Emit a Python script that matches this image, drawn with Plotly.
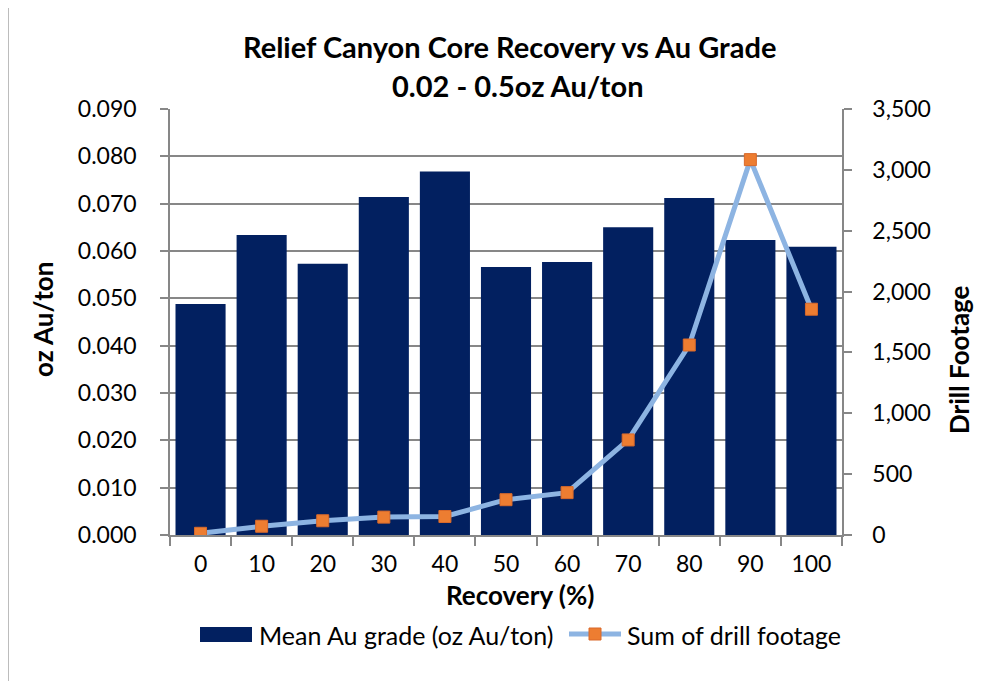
import plotly.graph_objects as go

recovery = ["0", "10", "20", "30", "40", "50", "60", "70", "80", "90", "100"]
mean_grade = [0.0488, 0.0634, 0.0573, 0.0714, 0.0768, 0.0566, 0.0577, 0.0650, 0.0712, 0.0623, 0.0609]
drill_footage = [14, 72, 117, 147, 152, 290, 348, 781, 1561, 3084, 1855]

FONT = "Lato"
GRID = "#878787"
BAR = "#022060"
LINE = "#8DB4E2"
MARK = "#ED7D31"

OFF = 8  # page body margin
W, H = 995 - OFF, 681 - OFF
L, R, T, B = 170 - OFF, 842 - OFF, 109 - OFF, 535 - OFF


def px_x(p):
    return (p - OFF - L) / (R - L)


def px_y(p):
    return (B - (p - OFF)) / (B - T)


fig = go.Figure()
fig.add_trace(go.Bar(
    x=recovery, y=mean_grade, name="Mean Au grade (oz Au/ton)",
    marker=dict(color=BAR, line=dict(width=0)),
    yaxis="y",
))
fig.add_trace(go.Scatter(
    x=recovery, y=drill_footage, name="Sum of drill footage",
    mode="lines+markers",
    line=dict(color=LINE, width=5),
    marker=dict(symbol="square", size=12, color=MARK,
                line=dict(color="#D9692A", width=1)),
    yaxis="y2",
))

fig.update_layout(
    width=W, height=H,
    margin=dict(l=L, r=W - R, t=T, b=H - B, pad=0),
    paper_bgcolor="white", plot_bgcolor="white",
    font=dict(family=FONT, size=23, color="#000000"),
    bargap=0.18,
    showlegend=False,
    xaxis=dict(
        type="category", range=[-0.5, 10.5],
        showline=True, linecolor=GRID, linewidth=1.5,
        ticks="outside", ticklen=9, tickcolor=GRID, tickwidth=1.5,
        tickson="boundaries", showgrid=False,
        tickfont=dict(family=FONT, size=23),
        ticklabelstandoff=8,
    ),
    yaxis=dict(
        range=[0, 0.09], dtick=0.01, tickformat=".3f",
        showline=True, linecolor=GRID, linewidth=1.5,
        ticks="outside", ticklen=8, tickcolor=GRID, tickwidth=1.5,
        showgrid=True, gridcolor=GRID, gridwidth=1.5,
        zeroline=False,
        tickfont=dict(family=FONT, size=23),
        ticklabelstandoff=19,
    ),
    yaxis2=dict(
        range=[0, 3500], dtick=500, tickformat=",",
        overlaying="y", side="right",
        showline=True, linecolor=GRID, linewidth=1.5,
        ticks="outside", ticklen=8, tickcolor=GRID, tickwidth=1.5,
        showgrid=False, zeroline=False,
        tickfont=dict(family=FONT, size=23),
        ticklabelstandoff=16,
    ),
)

annos = [
    dict(text="<b>Relief Canyon Core Recovery vs Au Grade</b>", x=509, y=47, size=29),
    dict(text="<b>0.02 - 0.5oz Au/ton</b>", x=518, y=85, size=29),
    dict(text="<b>Recovery (%)</b>", x=520, y=595, size=26),
    dict(text="<b>oz Au/ton</b>", x=43, y=320, size=26, angle=-90),
    dict(text="<b>Drill Footage</b>", x=959, y=360, size=26, angle=-90),
]
for a in annos:
    fig.add_annotation(text=a["text"], x=px_x(a["x"]), y=px_y(a["y"]), xref="paper", yref="paper",
                       xanchor="center", yanchor="middle", showarrow=False,
                       textangle=a.get("angle", 0),
                       font=dict(family=FONT, size=a["size"], color="#000000"))

# custom legend
LEG_Y = 634.5
fig.add_shape(type="rect", xref="paper", yref="paper",
              x0=px_x(200), x1=px_x(252), y0=px_y(642), y1=px_y(627),
              line=dict(width=0), fillcolor=BAR)
fig.add_annotation(text="Mean Au grade (oz Au/ton)", x=px_x(257), y=px_y(LEG_Y),
                   xref="paper", yref="paper", xanchor="left", yanchor="middle",
                   showarrow=False, font=dict(family=FONT, size=25, color="#000000"))
fig.add_shape(type="line", xref="paper", yref="paper",
              x0=px_x(569), x1=px_x(621), y0=px_y(634), y1=px_y(634),
              line=dict(color=LINE, width=5))
fig.add_shape(type="rect", xref="paper", yref="paper",
              x0=px_x(589), x1=px_x(601), y0=px_y(640), y1=px_y(628),
              line=dict(color="#D9692A", width=1), fillcolor=MARK)
fig.add_annotation(text="Sum of drill footage", x=px_x(625), y=px_y(LEG_Y),
                   xref="paper", yref="paper", xanchor="left", yanchor="middle",
                   showarrow=False, font=dict(family=FONT, size=25, color="#000000"))

# outer chart border (right/bottom edges lie outside the view)
fig.add_shape(type="rect", xref="paper", yref="paper",
              x0=px_x(8), x1=px_x(1300), y0=px_y(1000), y1=px_y(5),
              line=dict(color="#A6A6A6", width=1.5), fillcolor="rgba(0,0,0,0)", layer="below")

fig.write_html("out.html")
